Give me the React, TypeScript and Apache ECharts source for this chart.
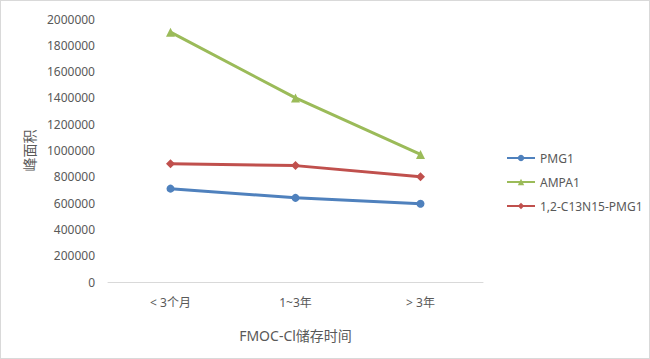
import React, { useEffect, useRef } from "react";
import * as echarts from "echarts";

const categories = ["< 3个月", "1~3年", "> 3年"];
const pmg1 = [710000, 640000, 595000];
const ampa1 = [1900000, 1400000, 970000];
const c13n15 = [900000, 885000, 800000];
const seriesNames = ["PMG1", "AMPA1", "1,2-C13N15-PMG1"];
const colors = ["#4F81BD", "#9BBB59", "#C0504D"];

export default function App() {
  const ref = useRef<HTMLDivElement>(null);
  useEffect(() => {
    if (!ref.current) return;
    const chart = echarts.init(ref.current, undefined, { renderer: "svg" });
    const font = "'Noto Sans', 'Noto Sans CJK SC', sans-serif";
    chart.setOption({
      animation: false,
      backgroundColor: "#ffffff",
      textStyle: { fontFamily: font },
      color: colors,
      grid: { left: 107, right: 166, top: 18, bottom: 76 },
      legend: {
        orient: "vertical",
        left: 500,
        top: 146,
        itemWidth: 28,
        itemHeight: 8,
        itemGap: 12,
        textStyle: { color: "#595959", fontSize: 12, fontFamily: font },
        data: seriesNames,
      },
      xAxis: {
        type: "category",
        data: categories,
        boundaryGap: true,
        name: "FMOC-Cl储存时间",
        nameLocation: "middle",
        nameGap: 46,
        nameTextStyle: { color: "#595959", fontSize: 14, fontFamily: font },
        axisLine: { lineStyle: { color: "#d9d9d9", width: 1 } },
        axisTick: { show: false },
        axisLabel: { color: "#595959", fontSize: 12, margin: 14, fontFamily: font },
      },
      yAxis: {
        type: "value",
        min: 0,
        max: 2000000,
        interval: 200000,
        name: "峰面积",
        nameLocation: "middle",
        nameRotate: 90,
        nameGap: 67,
        nameTextStyle: { color: "#595959", fontSize: 14, fontFamily: font },
        axisLine: { show: false },
        axisTick: { show: false },
        splitLine: { show: false },
        axisLabel: {
          color: "#595959",
          fontSize: 12,
          margin: 13,
          fontFamily: font,
          formatter: (v: number) => String(v),
        },
      },
      series: [
        {
          name: seriesNames[0],
          type: "line",
          data: pmg1,
          symbol: "circle",
          symbolSize: 8,
          lineStyle: { width: 3, color: colors[0] },
          itemStyle: { color: colors[0] },
        },
        {
          name: seriesNames[1],
          type: "line",
          data: ampa1,
          symbol: "triangle",
          symbolSize: 9,
          lineStyle: { width: 3, color: colors[1] },
          itemStyle: { color: colors[1] },
        },
        {
          name: seriesNames[2],
          type: "line",
          data: c13n15,
          symbol: "diamond",
          symbolSize: 9,
          lineStyle: { width: 3, color: colors[2] },
          itemStyle: { color: colors[2] },
        },
      ],
    });
    return () => chart.dispose();
  }, []);
  return (
    <div
      style={{
        position: "fixed",
        left: 0,
        top: 0,
        width: 650,
        height: 359,
        boxSizing: "border-box",
        border: "1px solid #d9d9d9",
        background: "#fff",
      }}
    >
      <div ref={ref} style={{ width: 648, height: 357 }} />
    </div>
  );
}
